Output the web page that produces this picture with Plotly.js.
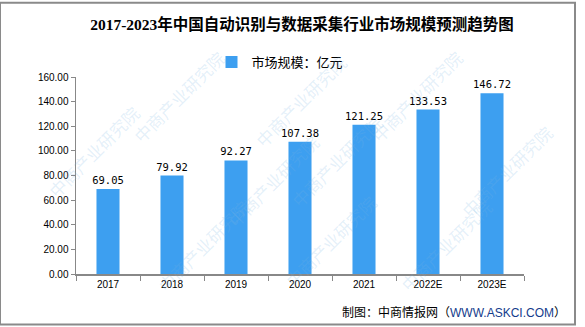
<!DOCTYPE html>
<html>
<head>
<meta charset="utf-8">
<script src="https://cdn.plot.ly/plotly-3.0.1.min.js"></script>
<style>html,body{margin:0;padding:0;background:#fff;}#chart{width:585px;height:327px;}</style>
</head>
<body>
<div id="chart"></div>
<script>
const categories = ["2017", "2018", "2019", "2020", "2021", "2022E", "2023E"];
const marketSize = [69.05, 79.92, 92.27, 107.38, 121.25, 133.53, 146.72];
const seriesName = "市场规模：亿元";
const chartTitle = "2017-2023年中国自动识别与数据采集行业市场规模预测趋势图";
const sourcePrefix = "制图：中商情报网（";
const sourceUrl = "WWW.ASKCI.COM";
const sourceSuffix = "）";
const watermarkText = "中商产业研究院";
const watermarkSpots = [[125, 40], [300, 45], [470, 40], [40, 150], [220, 180], [390, 160], [560, 170], [150, 300], [330, 295], [500, 300]];

const barColor = "#3d9ff0";
const tickFont = {family: "Liberation Sans, Arial, sans-serif", size: 10, color: "#000"};

const trace = {
  type: "bar",
  x: categories,
  y: marketSize,
  name: seriesName,
  marker: {color: barColor},
  width: 0.36,
  text: marketSize.map(v => v.toFixed(2)),
  textposition: "outside",
  constraintext: "none",
  cliponaxis: false,
  textfont: {family: "DejaVu Sans Mono, monospace", size: 10.5, color: "#000"},
  hoverinfo: "skip"
};

const annotations = [];
watermarkSpots.forEach(p => {
  annotations.push({
    xref: "paper", yref: "paper", x: (p[0] - 76) / 448, y: (274 - p[1]) / 199,
    text: watermarkText, showarrow: false, textangle: -45,
    font: {family: "Noto Sans CJK SC", size: 17, color: "rgba(120,180,225,0.2)"}
  });
});
annotations.push({
  xref: "paper", yref: "paper", x: (568 - 76) / 448, y: (274 - 313) / 199,
  xanchor: "right", yanchor: "middle", showarrow: false,
  text: sourcePrefix + "<span style='color:#143c8c'>" + sourceUrl + "</span>" + sourceSuffix,
  font: {family: "Liberation Sans, Noto Sans CJK SC, sans-serif", size: 12, color: "#000"}
});

const layout = {
  width: 585, height: 327,
  margin: {l: 76, r: 61, t: 75, b: 53},
  paper_bgcolor: "#fff", plot_bgcolor: "#fff",
  title: {
    text: "<b>" + chartTitle + "</b>",
    x: 302 / 585, xanchor: "center", y: 1 - 25 / 327, yanchor: "middle",
    font: {family: "Liberation Serif, Noto Sans CJK SC, serif", size: 15.5, color: "#000"}
  },
  showlegend: true,
  legend: {
    orientation: "h", x: 280 / 585, xanchor: "center", xref: "container",
    y: 1 - 62 / 327, yref: "container", yanchor: "middle",
    font: {family: "Noto Sans CJK SC", size: 13, color: "#000"},
    itemwidth: 30, bgcolor: "rgba(0,0,0,0)"
  },
  xaxis: {
    type: "category", showgrid: false, zeroline: false,
    showline: true, linecolor: "#888", linewidth: 1.5,
    ticks: "outside", tickson: "boundaries", ticklen: 5, tickcolor: "#888",
    tickfont: tickFont, fixedrange: true
  },
  yaxis: {
    range: [0, 160], dtick: 20, tickformat: ".2f",
    showgrid: false, zeroline: false,
    showline: true, linecolor: "#888", linewidth: 1.5,
    ticks: "outside", ticklen: 4, tickcolor: "#888",
    tickfont: tickFont, fixedrange: true
  },
  shapes: [{
    type: "rect", xref: "paper", yref: "paper",
    x0: -76 / 448, x1: (575 - 76) / 448, y0: (274 - 325) / 199, y1: 274 / 199,
    line: {color: "#8a8a8a", width: 2}, fillcolor: "rgba(0,0,0,0)", layer: "below"
  }],
  annotations: annotations,
  bargap: 0.64
};

Plotly.newPlot("chart", [trace], layout, {displayModeBar: false, staticPlot: true});
</script>
</body>
</html>
